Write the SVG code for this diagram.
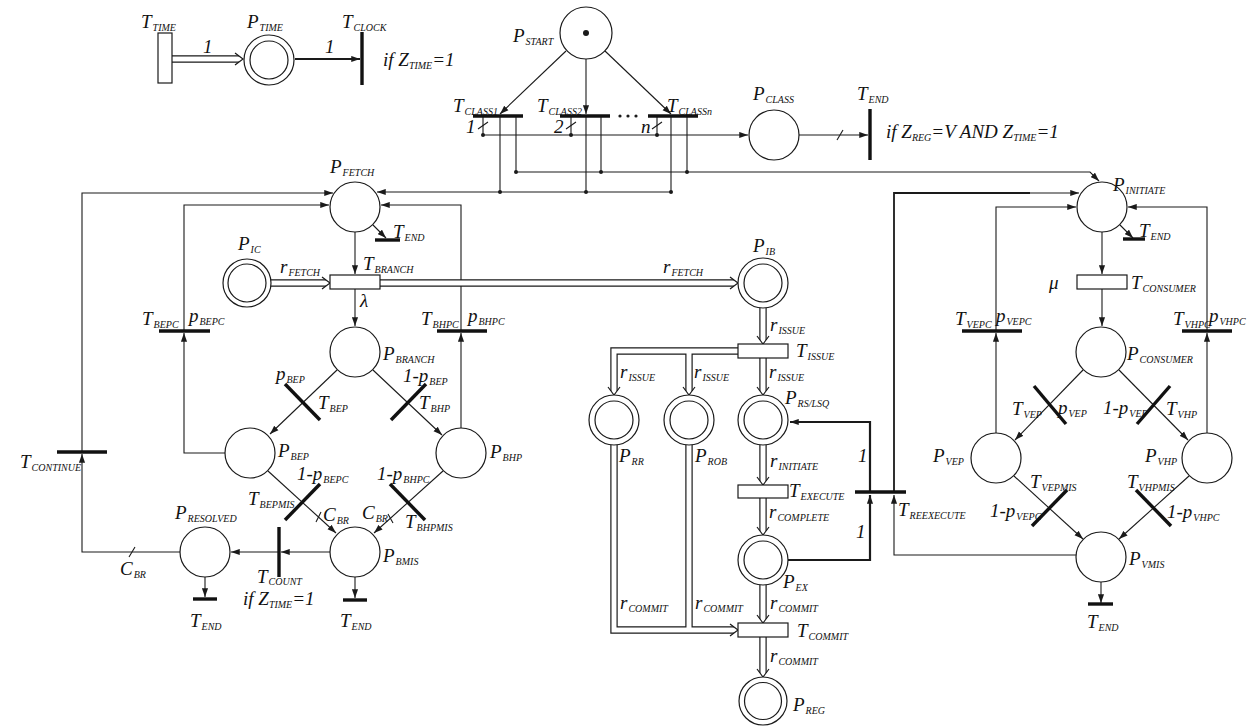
<svg xmlns="http://www.w3.org/2000/svg" width="1255" height="726" viewBox="0 0 1255 726">
<style>
.ln{fill:none;stroke:#1a1a1a;stroke-width:1.1}
.tk{fill:none;stroke:#1a1a1a;stroke-width:2.2}
.tk2{fill:none;stroke:#1a1a1a;stroke-width:1.8}
.bar{fill:none;stroke:#111;stroke-width:3.4}
.pl{fill:#fff;stroke:#1a1a1a;stroke-width:1.2}
.tr{fill:#fff;stroke:#1a1a1a;stroke-width:1.2}
.d1{fill:none;stroke:#1a1a1a;stroke-width:7.4;stroke-linejoin:miter}
.d2{fill:none;stroke:#fff;stroke-width:5;stroke-linejoin:miter}
.hd{fill:none;stroke:#1a1a1a;stroke-width:1.2}
.dot{fill:#1a1a1a}
.t{font-family:"Liberation Serif","Times New Roman",serif;font-style:italic;font-size:19px;fill:#111}
.s{font-size:10px}
</style>
<defs>
<marker id="ar" viewBox="0 0 10 8" refX="10" refY="4" markerWidth="9" markerHeight="7" orient="auto" markerUnits="userSpaceOnUse"><path d="M0,0.5 L10,4 L0,7.5z" fill="#1a1a1a"/></marker>
</defs>
<rect width="1255" height="726" fill="#fff"/>

<g id="connectors">
<path class="tk" d="M295,59 H360" marker-end="url(#ar)"/>
<path class="ln" d="M566,51 L500,114" marker-end="url(#ar)"/>
<path class="ln" d="M586,59 V114" marker-end="url(#ar)"/>
<path class="ln" d="M605,51 L671,114" marker-end="url(#ar)"/>
<path class="ln" d="M483,116 V135 M571,116 V135 M657,116 V135 M500,116 V192 M516,116 V172 M586,116 V192 M601,116 V172 M671,116 V192 M687,116 V172"/>
<path class="ln" d="M478,129 L488,122 M566,129 L576,122 M652,129 L662,122"/>
<path class="ln" d="M483,135 H748" marker-end="url(#ar)"/>
<path class="ln" d="M516,172 H1090 L1099,181" marker-end="url(#ar)"/>
<path class="ln" d="M671,192 H377" marker-end="url(#ar)"/>
<circle class="dot" cx="483" cy="135" r="2"/><circle class="dot" cx="571" cy="135" r="2"/><circle class="dot" cx="657" cy="135" r="2"/>
<circle class="dot" cx="516" cy="172" r="2"/><circle class="dot" cx="601" cy="172" r="2"/><circle class="dot" cx="687" cy="172" r="2"/>
<circle class="dot" cx="500" cy="192" r="2"/><circle class="dot" cx="586" cy="192" r="2"/><circle class="dot" cx="671" cy="192" r="2"/>
<path class="ln" d="M799,135 H868" marker-end="url(#ar)"/>
<path class="ln" d="M837,140 L843,130"/>

<path class="ln" d="M355,232 V274" marker-end="url(#ar)"/>
<path class="ln" d="M373,225 L386,238" marker-end="url(#ar)"/>
<path class="ln" d="M355,289 V326" marker-end="url(#ar)"/>
<path class="ln" d="M337,370 L270,434" marker-end="url(#ar)"/>
<path class="ln" d="M373,370 L442,435" marker-end="url(#ar)"/>
<path class="ln" d="M268,471 L336,533" marker-end="url(#ar)"/>
<path class="ln" d="M443,471 L374,533" marker-end="url(#ar)"/>
<path class="ln" d="M330,552 H281" marker-end="url(#ar)"/>
<path class="ln" d="M279,552 H231" marker-end="url(#ar)"/>
<path class="ln" d="M205,577 V597" marker-end="url(#ar)"/>
<path class="ln" d="M355,577 V598" marker-end="url(#ar)"/>
<path class="ln" d="M180,552 H82 V454" marker-end="url(#ar)"/>
<path class="ln" d="M82,452 V193 H333" marker-end="url(#ar)"/>
<path class="ln" d="M225,453 H184 V333" marker-end="url(#ar)"/>
<path class="ln" d="M184,331 V205 H329" marker-end="url(#ar)"/>
<path class="ln" d="M461,428 V333" marker-end="url(#ar)"/>
<path class="ln" d="M461,331 V205 H381" marker-end="url(#ar)"/>
<path class="ln" d="M129,557 L135,547 M316,522 L321,512 M388,514 L393,523"/>

<path class="tk" d="M788,560 H870 V495" marker-end="url(#ar)"/>
<path class="tk" d="M870,492 V422 H790" marker-end="url(#ar)"/>
<path class="ln" d="M1076,555 H894 V495" marker-end="url(#ar)"/>
<path class="tk2" d="M894,492 V193 H1030"/>
<path class="ln" d="M1029,193 H1079" marker-end="url(#ar)"/>

<path class="ln" d="M1102,232 V274" marker-end="url(#ar)"/>
<path class="ln" d="M1120,225 L1133,238" marker-end="url(#ar)"/>
<path class="ln" d="M1102,289 V326" marker-end="url(#ar)"/>
<path class="ln" d="M1083,370 L1015,440" marker-end="url(#ar)"/>
<path class="ln" d="M1119,370 L1188,440" marker-end="url(#ar)"/>
<path class="ln" d="M1014,476 L1083,539" marker-end="url(#ar)"/>
<path class="ln" d="M1189,476 L1119,539" marker-end="url(#ar)"/>
<path class="ln" d="M1101,582 V603" marker-end="url(#ar)"/>
<path class="ln" d="M996,433 V333" marker-end="url(#ar)"/>
<path class="ln" d="M996,331 V207 H1076" marker-end="url(#ar)"/>
<path class="ln" d="M1207,433 V333" marker-end="url(#ar)"/>
<path class="ln" d="M1207,331 V207 H1128" marker-end="url(#ar)"/>

<g id="double-arcs">
<path class="d1" d="M172,59 H239 M271,283 H326 M380,283 H734 M763,308 V340 M738,351 H614 V391 M738,351 H689 V391 M763,358 V391 M763,445 V481 M763,498 V531 M763,585 V619 M614,445 V630 H734 M689,445 V630 M763,637 V673"/>
<path class="d2" d="M172,59 H239 M271,283 H326 M380,283 H734 M763,308 V340 M738,351 H614 V391 M738,351 H689 V391 M763,358 V391 M763,445 V481 M763,498 V531 M763,585 V619 M614,445 V630 H734 M689,445 V630 M763,637 V673"/>
<path class="hd" d="M235,53 L243,59 L235,65 M322,277 L330,283 L322,289 M730,277 L738,283 L730,289 M730,624 L738,630 L730,636 M757,336 L763,344 L769,336 M608,387 L614,395 L620,387 M683,387 L689,395 L695,387 M757,387 L763,395 L769,387 M757,477 L763,485 L769,477 M757,527 L763,535 L769,527 M757,615 L763,623 L769,615 M757,669 L763,677 L769,669"/>
</g>
</g>

<g id="T_TIME"><rect class="tr" x="158" y="33" width="14" height="50"/><text class="t" x="141" y="28">T<tspan class="s" dx="1" dy="3">TIME</tspan></text><text class="t" x="203" y="53">1</text></g>
<g id="P_TIME"><circle class="pl" cx="269" cy="60" r="25"/><circle class="pl" cx="269" cy="60" r="19"/><text class="t" x="247" y="28">P<tspan class="s" dx="1" dy="3">TIME</tspan></text><text class="t" x="325" y="53">1</text></g>
<g id="T_CLOCK"><path class="bar" d="M362,32 V85"/><text class="t" x="342" y="28">T<tspan class="s" dx="1" dy="3">CLOCK</tspan></text><text class="t" x="383" y="66">if Z<tspan class="s" dy="3">TIME</tspan><tspan dy="-3">=1</tspan></text></g>

<g id="P_START"><circle class="pl" cx="586" cy="33" r="26"/><circle class="dot" cx="586" cy="33" r="3"/><text class="t" x="513" y="42">P<tspan class="s" dx="1" dy="3">START</tspan></text></g>
<g id="T_CLASS1"><path class="bar" d="M473,116 H523"/><text class="t" x="453" y="112">T<tspan class="s" dx="1" dy="3">CLASS1</tspan></text><text class="t" x="466" y="133">1</text></g>
<g id="T_CLASS2"><path class="bar" d="M560,116 H610"/><text class="t" x="537" y="112">T<tspan class="s" dx="1" dy="3">CLASS2</tspan></text><text class="t" x="554" y="133">2</text></g>
<g id="T_CLASS_dots"><circle class="dot" cx="620" cy="116" r="1.6"/><circle class="dot" cx="628" cy="116" r="1.6"/><circle class="dot" cx="636" cy="116" r="1.6"/></g>
<g id="T_CLASSn"><path class="bar" d="M648,116 H698"/><text class="t" x="667" y="112">T<tspan class="s" dx="1" dy="3">CLASSn</tspan></text><text class="t" x="641" y="133">n</text></g>
<g id="P_CLASS"><circle class="pl" cx="774" cy="135" r="25"/><text class="t" x="753" y="100">P<tspan class="s" dx="1" dy="3">CLASS</tspan></text></g>
<g id="T_END_top"><path class="bar" d="M870,109 V160"/><text class="t" x="857" y="100">T<tspan class="s" dx="1" dy="3">END</tspan></text><text class="t" x="886" y="138">if Z<tspan class="s" dy="3">REG</tspan><tspan dy="-3">=V AND Z</tspan><tspan class="s" dy="3">TIME</tspan><tspan dy="-3">=1</tspan></text></g>

<g id="P_FETCH"><circle class="pl" cx="355" cy="207" r="25"/><text class="t" x="330" y="173">P<tspan class="s" dx="1" dy="3">FETCH</tspan></text></g>
<g id="T_END_fetch"><path class="bar" d="M375,240 H400"/><text class="t" x="393" y="238">T<tspan class="s" dx="1" dy="3">END</tspan></text></g>
<g id="P_IC"><circle class="pl" cx="247" cy="283" r="24"/><circle class="pl" cx="247" cy="283" r="19"/><text class="t" x="238" y="250">P<tspan class="s" dx="1" dy="3">IC</tspan></text><text class="t" x="280" y="273">r<tspan class="s" dx="1" dy="3">FETCH</tspan></text></g>
<g id="T_BRANCH"><rect class="tr" x="330" y="275" width="50" height="14"/><text class="t" x="363" y="270">T<tspan class="s" dx="1" dy="3">BRANCH</tspan></text><text class="t" x="360" y="307">λ</text></g>
<g id="P_BRANCH"><circle class="pl" cx="355" cy="352" r="25"/><text class="t" x="383" y="360">P<tspan class="s" dx="1" dy="3">BRANCH</tspan></text></g>
<g id="T_BEPC"><path class="bar" d="M159,331 H210"/><text class="t" x="142" y="325">T<tspan class="s" dx="1" dy="3">BEPC</tspan></text><text class="t" x="189" y="322">p<tspan class="s" dx="1" dy="3">BEPC</tspan></text></g>
<g id="T_BHPC"><path class="bar" d="M437,331 H487"/><text class="t" x="421" y="325">T<tspan class="s" dx="1" dy="3">BHPC</tspan></text><text class="t" x="468" y="322">p<tspan class="s" dx="1" dy="3">BHPC</tspan></text></g>
<g id="T_BEP"><path class="bar" d="M285,384 L320,420"/><text class="t" x="276" y="380">p<tspan class="s" dx="1" dy="3">BEP</tspan></text><text class="t" x="318" y="409">T<tspan class="s" dx="1" dy="3">BEP</tspan></text></g>
<g id="T_BHP"><path class="bar" d="M426,384 L391,420"/><text class="t" x="403" y="382">1-p<tspan class="s" dx="1" dy="3">BEP</tspan></text><text class="t" x="419" y="409">T<tspan class="s" dx="1" dy="3">BHP</tspan></text></g>
<g id="P_BEP"><circle class="pl" cx="250" cy="453" r="25"/><text class="t" x="278" y="457">P<tspan class="s" dx="1" dy="3">BEP</tspan></text></g>
<g id="P_BHP"><circle class="pl" cx="461" cy="453" r="25"/><text class="t" x="490" y="458">P<tspan class="s" dx="1" dy="3">BHP</tspan></text></g>
<g id="T_BEPMIS"><path class="bar" d="M320,484 L285,520"/><text class="t" x="297" y="480">1-p<tspan class="s" dx="1" dy="3">BEPC</tspan></text><text class="t" x="248" y="505">T<tspan class="s" dx="1" dy="3">BEPMIS</tspan></text><text class="t" x="323" y="521">C<tspan class="s" dx="1" dy="3">BR</tspan></text></g>
<g id="T_BHPMIS"><path class="bar" d="M390,484 L425,520"/><text class="t" x="377" y="480">1-p<tspan class="s" dx="1" dy="3">BHPC</tspan></text><text class="t" x="405" y="528">T<tspan class="s" dx="1" dy="3">BHPMIS</tspan></text><text class="t" x="362" y="519">C<tspan class="s" dx="1" dy="3">BR</tspan></text></g>
<g id="P_BMIS"><circle class="pl" cx="355" cy="552" r="25"/><text class="t" x="383" y="562">P<tspan class="s" dx="1" dy="3">BMIS</tspan></text></g>
<g id="T_COUNT"><path class="bar" d="M279,527 V577"/><text class="t" x="257" y="583">T<tspan class="s" dx="1" dy="2">COUNT</tspan></text><text class="t" x="243" y="605">if Z<tspan class="s" dy="3">TIME</tspan><tspan dy="-3">=1</tspan></text></g>
<g id="P_RESOLVED"><circle class="pl" cx="205" cy="552" r="25"/><text class="t" x="175" y="519">P<tspan class="s" dx="1" dy="3">RESOLVED</tspan></text></g>
<g id="T_END_resolved"><path class="bar" d="M193,599 H217"/><text class="t" x="190" y="627">T<tspan class="s" dx="1" dy="3">END</tspan></text></g>
<g id="T_END_bmis"><path class="bar" d="M343,600 H367"/><text class="t" x="340" y="627">T<tspan class="s" dx="1" dy="3">END</tspan></text></g>
<g id="T_CONTINUE"><path class="bar" d="M57,452 H107"/><text class="t" x="20" y="468">T<tspan class="s" dx="1" dy="3">CONTINUE</tspan></text><text class="t" x="120" y="575">C<tspan class="s" dx="1" dy="3">BR</tspan></text></g>

<g id="P_IB"><circle class="pl" cx="763" cy="283" r="25"/><circle class="pl" cx="763" cy="283" r="19"/><text class="t" x="753" y="252">P<tspan class="s" dx="1" dy="3">IB</tspan></text><text class="t" x="663" y="273">r<tspan class="s" dx="1" dy="3">FETCH</tspan></text><text class="t" x="770" y="331">r<tspan class="s" dx="1" dy="3">ISSUE</tspan></text></g>
<g id="T_ISSUE"><rect class="tr" x="738" y="344" width="50" height="14"/><text class="t" x="796" y="357">T<tspan class="s" dx="1" dy="3">ISSUE</tspan></text><text class="t" x="620" y="378">r<tspan class="s" dx="1" dy="3">ISSUE</tspan></text><text class="t" x="694" y="378">r<tspan class="s" dx="1" dy="3">ISSUE</tspan></text><text class="t" x="769" y="378">r<tspan class="s" dx="1" dy="3">ISSUE</tspan></text></g>
<g id="P_RR"><circle class="pl" cx="614" cy="420" r="25"/><circle class="pl" cx="614" cy="420" r="19"/><text class="t" x="619" y="462">P<tspan class="s" dx="1" dy="3">RR</tspan></text></g>
<g id="P_ROB"><circle class="pl" cx="689" cy="420" r="25"/><circle class="pl" cx="689" cy="420" r="19"/><text class="t" x="695" y="462">P<tspan class="s" dx="1" dy="3">ROB</tspan></text></g>
<g id="P_RS_LSQ"><circle class="pl" cx="763" cy="420" r="25"/><circle class="pl" cx="763" cy="420" r="19"/><text class="t" x="785" y="404">P<tspan class="s" dx="1" dy="3">RS/LSQ</tspan></text><text class="t" x="770" y="467">r<tspan class="s" dx="1" dy="3">INITIATE</tspan></text></g>
<g id="T_EXECUTE"><rect class="tr" x="738" y="485" width="50" height="13"/><text class="t" x="789" y="497">T<tspan class="s" dx="1" dy="3">EXECUTE</tspan></text><text class="t" x="769" y="518">r<tspan class="s" dx="1" dy="3">COMPLETE</tspan></text></g>
<g id="P_EX"><circle class="pl" cx="763" cy="560" r="25"/><circle class="pl" cx="763" cy="560" r="19"/><text class="t" x="783" y="588">P<tspan class="s" dx="1" dy="3">EX</tspan></text><text class="t" x="770" y="609">r<tspan class="s" dx="1" dy="3">COMMIT</tspan></text></g>
<g id="T_COMMIT"><rect class="tr" x="738" y="623" width="50" height="14"/><text class="t" x="797" y="637">T<tspan class="s" dx="1" dy="3">COMMIT</tspan></text><text class="t" x="620" y="609">r<tspan class="s" dx="1" dy="3">COMMIT</tspan></text><text class="t" x="695" y="609">r<tspan class="s" dx="1" dy="3">COMMIT</tspan></text><text class="t" x="770" y="662">r<tspan class="s" dx="1" dy="3">COMMIT</tspan></text></g>
<g id="P_REG"><circle class="pl" cx="763" cy="701" r="24"/><circle class="pl" cx="763" cy="701" r="18.5"/><text class="t" x="793" y="711">P<tspan class="s" dx="1" dy="3">REG</tspan></text></g>
<g id="T_REEXECUTE"><path class="bar" d="M855,492 H906"/><text class="t" x="898" y="516">T<tspan class="s" dx="1" dy="3">REEXECUTE</tspan></text><text class="t" x="858" y="462">1</text><text class="t" x="856" y="538">1</text></g>

<g id="P_INITIATE"><circle class="pl" cx="1102" cy="207" r="25"/><text class="t" x="1113" y="191">P<tspan class="s" dx="1" dy="3">INITIATE</tspan></text></g>
<g id="T_END_initiate"><path class="bar" d="M1123,239 H1145"/><text class="t" x="1139" y="237">T<tspan class="s" dx="1" dy="3">END</tspan></text></g>
<g id="T_CONSUMER"><rect class="tr" x="1077" y="275" width="50" height="14"/><text class="t" x="1049" y="289">μ</text><text class="t" x="1131" y="289">T<tspan class="s" dx="1" dy="3">CONSUMER</tspan></text></g>
<g id="P_CONSUMER"><circle class="pl" cx="1101" cy="352" r="25"/><text class="t" x="1127" y="360">P<tspan class="s" dx="1" dy="3">CONSUMER</tspan></text></g>
<g id="T_VEPC"><path class="bar" d="M962,331 H1022"/><text class="t" x="955" y="325">T<tspan class="s" dx="1" dy="3">VEPC</tspan></text><text class="t" x="996" y="322">p<tspan class="s" dx="1" dy="3">VEPC</tspan></text></g>
<g id="T_VHPC"><path class="bar" d="M1182,331 H1232"/><text class="t" x="1173" y="325">T<tspan class="s" dx="1" dy="3">VHPC</tspan></text><text class="t" x="1209" y="322">p<tspan class="s" dx="1" dy="3">VHPC</tspan></text></g>
<g id="T_VEP"><path class="bar" d="M1034,386 L1066,424"/><text class="t" x="1012" y="415">T<tspan class="s" dx="1" dy="3">VEP</tspan></text><text class="t" x="1058" y="414">p<tspan class="s" dx="1" dy="3">VEP</tspan></text></g>
<g id="T_VHP"><path class="bar" d="M1170,386 L1137,424"/><text class="t" x="1103" y="414">1-p<tspan class="s" dx="1" dy="3">VEP</tspan></text><text class="t" x="1166" y="415">T<tspan class="s" dx="1" dy="3">VHP</tspan></text></g>
<g id="P_VEP"><circle class="pl" cx="996" cy="458" r="25"/><text class="t" x="933" y="462">P<tspan class="s" dx="1" dy="3">VEP</tspan></text></g>
<g id="P_VHP"><circle class="pl" cx="1207" cy="458" r="25"/><text class="t" x="1145" y="462">P<tspan class="s" dx="1" dy="3">VHP</tspan></text></g>
<g id="T_VEPMIS"><path class="bar" d="M1067,490 L1032,526"/><text class="t" x="1030" y="488">T<tspan class="s" dx="1" dy="3">VEPMIS</tspan></text><text class="t" x="990" y="517">1-p<tspan class="s" dx="1" dy="3">VEPC</tspan></text></g>
<g id="T_VHPMIS"><path class="bar" d="M1136,490 L1171,526"/><text class="t" x="1127" y="488">T<tspan class="s" dx="1" dy="3">VHPMIS</tspan></text><text class="t" x="1167" y="518">1-p<tspan class="s" dx="1" dy="3">VHPC</tspan></text></g>
<g id="P_VMIS"><circle class="pl" cx="1101" cy="557" r="25"/><text class="t" x="1129" y="565">P<tspan class="s" dx="1" dy="3">VMIS</tspan></text></g>
<g id="T_END_vmis"><path class="bar" d="M1088,604 H1113"/><text class="t" x="1087" y="628">T<tspan class="s" dx="1" dy="3">END</tspan></text></g>
</svg>
